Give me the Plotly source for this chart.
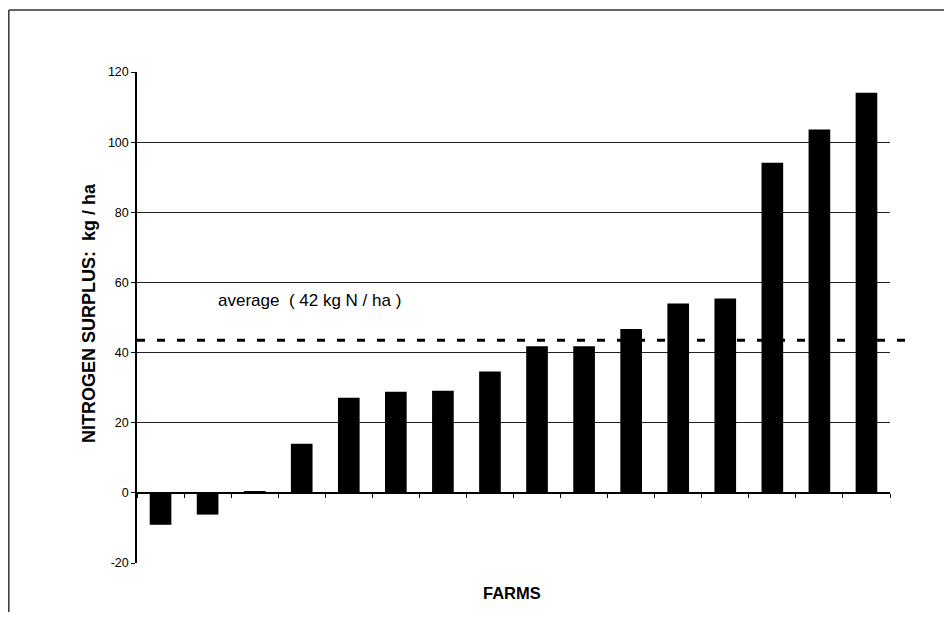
import plotly.graph_objects as go

farms = [f"Farm {i}" for i in range(1, 17)]
surplus = [-9.1, -6.2, 0.5, 14.0, 27.1, 28.8, 29.1, 34.6, 41.8, 41.8, 46.7, 54.0, 55.4, 94.1, 103.6, 114.1]
average_line = 43.5
average_label = "average  ( 42 kg N / ha )"
y_ticks = [-20, 0, 20, 40, 60, 80, 100, 120]

FONT = "Arial, Liberation Sans, sans-serif"
OFF = 8  # page body margin
W, H = 944, 619
# plot area in page pixels
PL, PR, PT, PB = 137, 890, 72, 563
ML, MT = PL - OFF, PT - OFF
MR, MB = W - (PR - OFF), H - (PB - OFF)

fig = go.Figure()
fig.add_trace(go.Bar(x=farms, y=surplus, marker=dict(color="black", line=dict(width=0)),
                     width=0.46, showlegend=False))

fig.update_layout(
    width=W, height=H,
    margin=dict(l=ML, r=MR, t=MT, b=MB),
    paper_bgcolor="white", plot_bgcolor="white",
    font=dict(family=FONT, color="black", size=13),
)

fig.update_yaxes(
    range=[-20, 120], tickvals=y_ticks, ticktext=[str(v) for v in y_ticks],
    showgrid=True, gridcolor="#222", gridwidth=1,
    zeroline=False,
    showline=True, linecolor="black", linewidth=1.5,
    ticks="outside", ticklen=4, tickcolor="black",
    tickfont=dict(family=FONT, size=12.5, color="black"),
)
fig.update_xaxes(
    showgrid=False, showticklabels=False,
    anchor="free", position=20 / 140,
    showline=True, linecolor="black", linewidth=1.5,
    ticks="outside", ticklen=4, tickcolor="black", tickson="boundaries",
)

pw = PR - PL
ph = PB - PT
def px_x(px):
    return (px - PL) / pw
def px_y(py):
    return (PB - py) / ph

# average dashed line
fig.add_shape(type="line", xref="paper", yref="y", x0=0, x1=px_x(910),
              y0=average_line, y1=average_line,
              line=dict(color="black", width=3, dash="8px,12px"))
fig.add_annotation(xref="paper", yref="paper", x=px_x(216), y=px_y(300), text=average_label,
                   showarrow=False, xanchor="left", yanchor="middle",
                   font=dict(family=FONT, size=17, color="black"))
fig.add_annotation(xref="paper", yref="paper", x=px_x(512), y=px_y(593), text="<b>FARMS</b>",
                   showarrow=False, xanchor="center", yanchor="middle",
                   font=dict(family=FONT, size=16.5, color="black"))
fig.add_annotation(xref="paper", yref="paper", x=px_x(89), y=px_y(313),
                   text="<b>NITROGEN SURPLUS:  kg / ha</b>", textangle=-90,
                   showarrow=False, xanchor="center", yanchor="middle",
                   font=dict(family=FONT, size=18, color="black"))

# outer frame (top and left edges)
fig.add_shape(type="line", xref="paper", yref="paper", x0=px_x(8.8), x1=px_x(952),
              y0=px_y(10), y1=px_y(10), line=dict(color="#333", width=1.5))
fig.add_shape(type="line", xref="paper", yref="paper", x0=px_x(8.8), x1=px_x(8.8),
              y0=px_y(10), y1=px_y(612), line=dict(color="#333", width=1.5))

fig.write_html("out.html")
